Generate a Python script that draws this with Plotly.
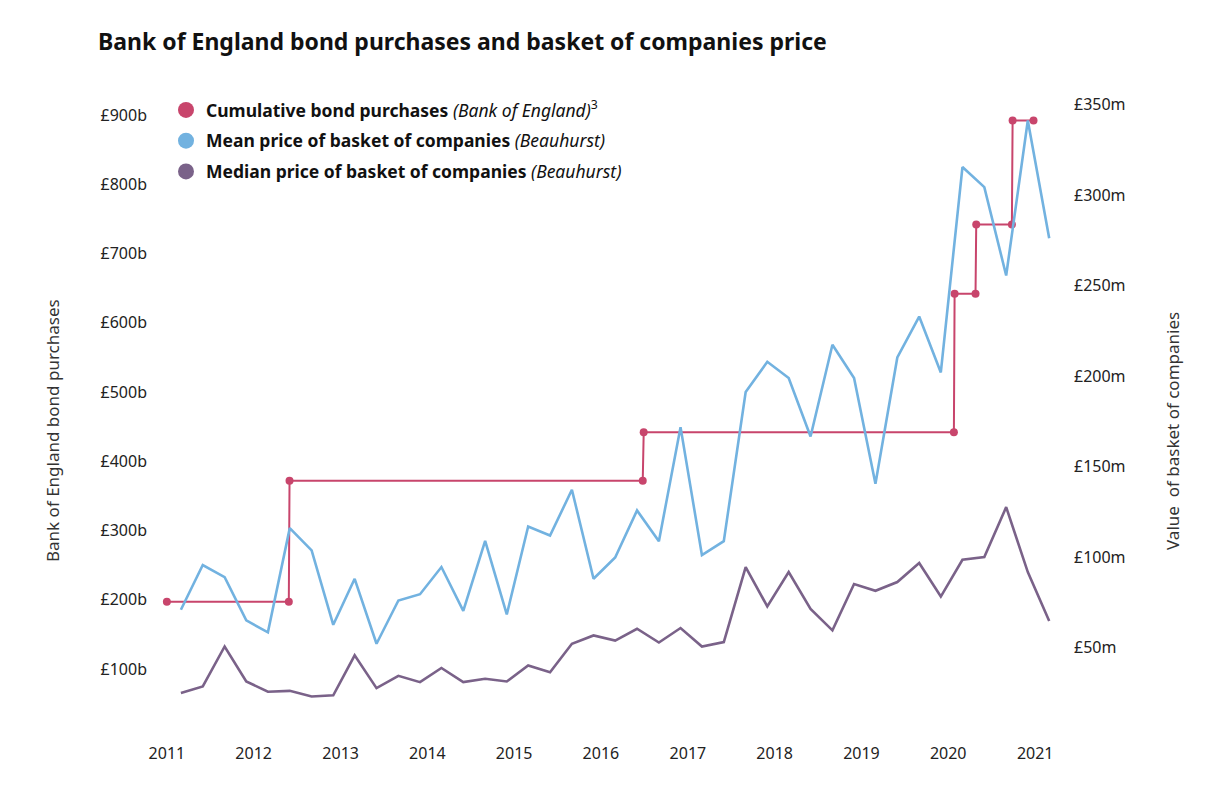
import plotly.graph_objects as go

# ---------------- data ----------------
quarters = [
    "2011-03-01", "2011-06-01", "2011-09-01", "2011-12-01",
    "2012-03-01", "2012-06-01", "2012-09-01", "2012-12-01",
    "2013-03-01", "2013-06-01", "2013-09-01", "2013-12-01",
    "2014-03-01", "2014-06-01", "2014-09-01", "2014-12-01",
    "2015-03-01", "2015-06-01", "2015-09-01", "2015-12-01",
    "2016-03-01", "2016-06-01", "2016-09-01", "2016-12-01",
    "2017-03-01", "2017-06-01", "2017-09-01", "2017-12-01",
    "2018-03-01", "2018-06-01", "2018-09-01", "2018-12-01",
    "2019-03-01", "2019-06-01", "2019-09-01", "2019-12-01",
    "2020-03-01", "2020-06-01", "2020-09-01", "2020-12-01",
    "2021-03-01",
]
mean_price = [
    71.0, 95.7, 89.0, 65.1, 58.5, 116.1, 103.8, 62.7,
    88.1, 52.2, 76.1, 79.6, 94.6, 70.4, 109.1, 68.4,
    117.0, 112.0, 137.3, 88.1, 99.9, 125.9, 108.9, 171.9,
    101.2, 108.9, 191.3, 208.0, 199.0, 166.7, 217.4, 199.0,
    140.6, 210.4, 233.0, 202.1, 315.6, 304.5, 255.7, 341.3,
    276.3,
]
median_price = [
    25.0, 28.6, 50.7, 31.4, 25.7, 26.2, 23.1, 23.7,
    45.8, 27.7, 34.5, 31.0, 38.8, 31.0, 32.9, 31.4,
    40.2, 36.5, 52.2, 56.8, 54.0, 60.5, 52.9, 60.9,
    50.7, 53.1, 94.6, 72.8, 91.8, 71.4, 59.6, 85.2,
    81.5, 86.3, 96.8, 78.3, 98.6, 100.1, 127.7, 91.8,
    64.8,
]
bond_dates = [
    "2011-01-01", "2012-05-28", "2012-05-31", "2016-06-25",
    "2016-06-29", "2020-01-25", "2020-01-28", "2020-04-25",
    "2020-04-28", "2020-09-25", "2020-09-28", "2020-12-25",
]
bond_values = [197, 197, 372, 372, 442, 442, 642, 642, 742, 742, 892, 892]

left_ticks = [100, 200, 300, 400, 500, 600, 700, 800, 900]
left_labels = ["£100b", "£200b", "£300b", "£400b", "£500b", "£600b", "£700b", "£800b", "£900b"]
right_ticks = [50, 100, 150, 200, 250, 300, 350]
right_labels = ["£50m", "£100m", "£150m", "£200m", "£250m", "£300m", "£350m"]
year_ticks = [f"{y}-01-01" for y in range(2011, 2022)]
year_labels = [str(y) for y in range(2011, 2022)]

title = "Bank of England bond purchases and basket of companies price"
names = [
    "<b>Cumulative bond purchases</b> <i>(Bank of England)</i><sup>3</sup>",
    "<b>Mean price of basket of companies</b> <i>(Beauhurst)</i>",
    "<b>Median price of basket of companies</b> <i>(Beauhurst)</i>",
]
left_title = "Bank of England bond purchases"
right_title = "Value  of basket of companies"

RED = "#C8456C"
BLUE = "#72B2E0"
PURPLE = "#7A6289"
FONT = "Noto Sans"

W, H = 1202, 784  # page body has an 8px margin
L, R, T, B = 142, 152, 72, 50
PW, PH = W - L - R, H - T - B


def px(xf):
    return (xf - 8 - L) / PW


def py(yf):
    return (H - B - (yf - 8)) / PH


fig = go.Figure()

fig.add_trace(go.Scatter(
    x=quarters, y=mean_price, mode="lines", yaxis="y2",
    line=dict(color=BLUE, width=2.6), showlegend=False,
))
fig.add_trace(go.Scatter(
    x=quarters, y=median_price, mode="lines", yaxis="y2",
    line=dict(color=PURPLE, width=2.6), showlegend=False,
))
fig.add_trace(go.Scatter(
    x=bond_dates, y=bond_values, mode="lines+markers", yaxis="y",
    line=dict(color=RED, width=2), marker=dict(color=RED, size=8),
    showlegend=False,
))

# legend-only entries (circles)
for i, (nm, col) in enumerate(zip(names, [RED, BLUE, PURPLE])):
    fig.add_trace(go.Scatter(
        x=[None], y=[None], mode="markers", name=nm, legendgroup=f"g{i}",
        marker=dict(color=col, size=17), showlegend=True,
    ))

fig.update_layout(
    width=W, height=H,
    margin=dict(l=L, r=R, t=T, b=B),
    paper_bgcolor="white", plot_bgcolor="white",
    font=dict(family=FONT, size=16, color="#222222"),
    title=dict(text=title, xref="container", yref="container",
               x=(98 - 8) / W, y=1 - (42 - 8) / H, xanchor="left", yanchor="middle",
               font=dict(family=FONT, size=23, color="#111111", weight="bold")),
    xaxis=dict(type="date", range=["2010-10-22", "2021-04-07"],
               tickvals=year_ticks, ticktext=year_labels,
               showgrid=False, zeroline=False, showline=False, ticks="",
               tickfont=dict(size=16)),
    yaxis=dict(range=[-5.4, 950.6], tickvals=left_ticks, ticktext=left_labels,
               showgrid=False, zeroline=False, showline=False, ticks="",
               ticklabelstandoff=2, tickfont=dict(size=16)),
    yaxis2=dict(range=[-2.07, 363.7], tickvals=right_ticks, ticktext=right_labels,
                overlaying="y", side="right",
                showgrid=False, zeroline=False, showline=False, ticks="",
                ticklabelstandoff=15, tickfont=dict(size=16)),
    legend=dict(x=px(166), y=py(92), xanchor="left", yanchor="top",
                font=dict(size=17.5, color="#111111"), bgcolor="rgba(0,0,0,0)",
                itemsizing="trace", traceorder="grouped", tracegroupgap=5),
    annotations=[
        dict(text=left_title, xref="paper", yref="paper",
             x=px(52), y=py(431), textangle=-90,
             showarrow=False, xanchor="center", yanchor="middle",
             font=dict(size=17, color="#333333")),
        dict(text=right_title, xref="paper", yref="paper",
             x=px(1172), y=py(431), textangle=-90,
             showarrow=False, xanchor="center", yanchor="middle",
             font=dict(size=17, color="#333333")),
    ],
)

fig.write_html("out.html")
